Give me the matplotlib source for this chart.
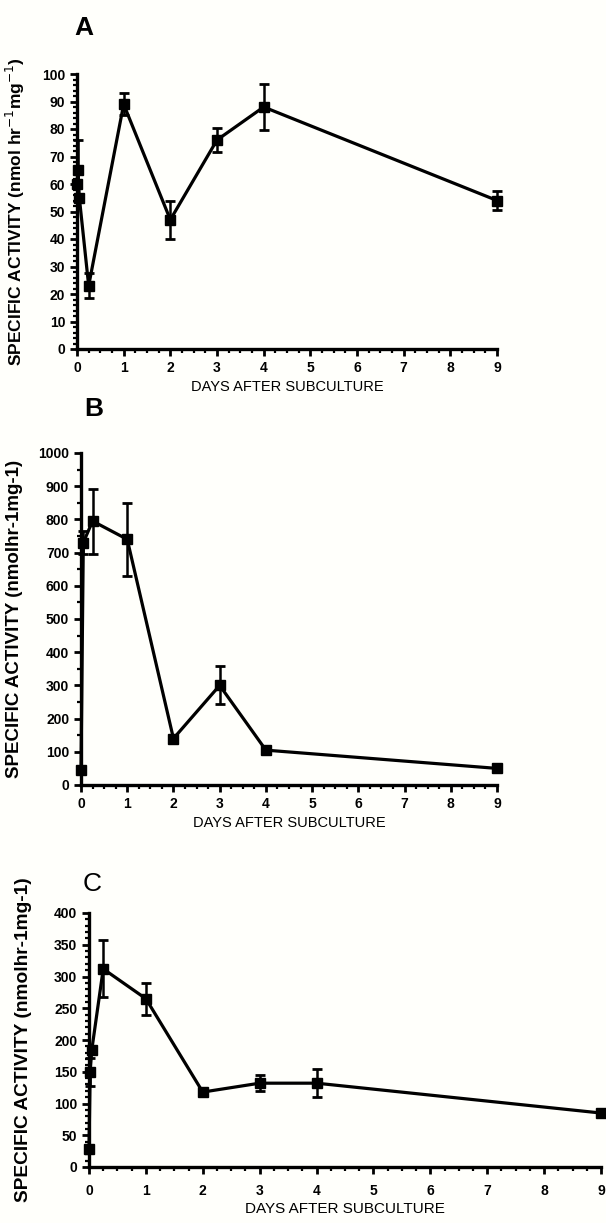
import matplotlib.pyplot as plt
from matplotlib.ticker import MultipleLocator

plt.rcParams['font.family'] = ['Liberation Sans', 'DejaVu Sans']

# panel A
days_a = [0, 0.02, 0.05, 0.25, 1, 2, 3, 4, 9]
act_a = [60, 65, 55, 23, 89, 47, 76, 88, 54]
err_a = [0, 11, 0, 4.5, 4, 7, 4.5, 8.5, 3.5]

# panel B
days_b = [0, 0.05, 0.25, 1, 2, 3, 4, 9]
act_b = [45, 730, 795, 740, 140, 300, 105, 50]
err_b = [0, 35, 98, 110, 0, 57, 0, 0]

# panel C
days_c = [0, 0.02, 0.05, 0.25, 1, 2, 3, 4, 9]
act_c = [28, 150, 185, 312, 265, 118, 132, 132, 85]
err_c = [0, 22, 0, 45, 25, 0, 13, 22, 0]

xticks = list(range(10))
W, H = 606, 1223

fig = plt.figure(figsize=(W / 100, H / 100), dpi=100)
fig.patch.set_facecolor('#fffffb')


def px_axes(l, r, t, b):
    return fig.add_axes([l / W, 1 - b / H, (r - l) / W, (b - t) / H])


def panel(ax, x, y, e, ymax, ymaj, ymin, ylabel, ysize, ypad, xsize, xpad,
          letter, lpos, lweight):
    ax.set_facecolor('#fffffb')
    ax.errorbar(x, y, yerr=e, color='black', lw=2.3, marker='s', ms=6.5,
                capsize=3.5, capthick=2, elinewidth=1.8, clip_on=False, zorder=3)
    ax.set_xlim(0, 9)
    ax.set_ylim(0, ymax)
    ax.set_xticks(xticks)
    ax.xaxis.set_minor_locator(MultipleLocator(0.25))
    ax.yaxis.set_major_locator(MultipleLocator(ymaj))
    ax.yaxis.set_minor_locator(MultipleLocator(ymin))
    for s in ['top', 'right']:
        ax.spines[s].set_visible(False)
    for s in ['left', 'bottom']:
        ax.spines[s].set_linewidth(2.4)
    ax.tick_params(which='major', length=5, width=2, direction='out', labelsize=10)
    ax.tick_params(axis='x', pad=xpad)
    ax.tick_params(which='minor', length=3, width=1.6, direction='out')
    for lab in ax.get_xticklabels() + ax.get_yticklabels():
        lab.set_fontweight('bold')
    ax.set_xlabel('DAYS AFTER SUBCULTURE', fontsize=xsize, labelpad=3)
    ax.set_ylabel(ylabel, fontsize=ysize, fontweight='bold', labelpad=ypad)
    fig.text(lpos[0] / W, 1 - lpos[1] / H, letter, fontsize=19, fontweight=lweight,
             ha='center', va='center')


ax_a = px_axes(77, 497, 74, 349)
panel(ax_a, days_a, act_a, err_a, 100, 10, 2,
      'SPECIFIC ACTIVITY (nmol hr$^{-1}$mg$^{-1}$)', 12.5, 11, 10.5, 4,
      'A', (84, 28), 'bold')

ax_b = px_axes(81, 497, 453, 785)
panel(ax_b, days_b, act_b, err_b, 1000, 100, 50,
      'SPECIFIC ACTIVITY (nmolhr-1mg-1)', 13.5, 11, 10.5, 4,
      'B', (94, 409), 'bold')

ax_c = px_axes(89, 601, 913, 1167)
panel(ax_c, days_c, act_c, err_c, 400, 50, 10,
      'SPECIFIC ACTIVITY (nmolhr-1mg-1)', 13.8, 16, 11, 7,
      'C', (92, 884), 'normal')

fig.savefig('out.png', dpi=100, facecolor=fig.get_facecolor())
